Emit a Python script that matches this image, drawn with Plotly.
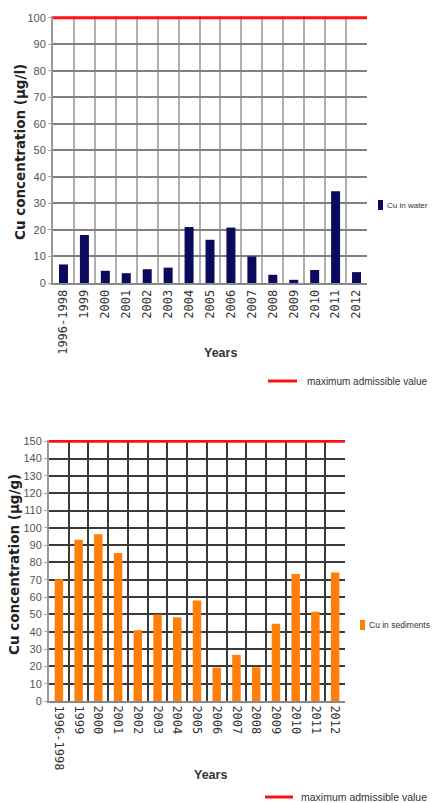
import plotly.graph_objects as go

categories = ["1996-1998", "1999", "2000", "2001", "2002", "2003", "2004", "2005",
              "2006", "2007", "2008", "2009", "2010", "2011", "2012"]
cu_water = [7.0, 18.1, 4.6, 3.7, 5.2, 5.8, 21.1, 16.3, 20.9, 10.0, 3.1, 1.2, 4.9, 34.6, 4.1]
cu_sediments = [70.3, 93.2, 96.3, 85.5, 40.9, 50.0, 48.4, 58.0, 19.3, 26.7, 19.5, 44.6, 73.4, 51.6, 74.2]
water_limit = 100
sediment_limit = 150
water_ticks = list(range(0, 101, 10))
sediment_ticks = list(range(0, 151, 10))

W, H = 432, 803

def px_x(p):
    return p / W

def px_y(p):
    return 1 - p / H

SANS = "Liberation Sans, Arial"
MONO = "DejaVu Sans Mono, monospace"
TITLE = "DejaVu Sans, Verdana"
WATER_COLOR = "#0a0a5e"
SED_COLOR = "#ff7f0a"
LIMIT_COLOR = "#ff1010"

fig = go.Figure()

fig.add_trace(go.Bar(
    x=categories, y=cu_water, name="Cu in water",
    marker=dict(color=WATER_COLOR, line=dict(width=0)),
    xaxis="x", yaxis="y", showlegend=False,
))
fig.add_trace(go.Bar(
    x=categories, y=cu_sediments, name="Cu in sediments",
    marker=dict(color=SED_COLOR, line=dict(width=0)),
    xaxis="x2", yaxis="y2", showlegend=False,
))

# maximum admissible value lines
fig.add_shape(type="line", xref="x domain", x0=0, x1=1, yref="y",
              y0=water_limit, y1=water_limit,
              line=dict(color=LIMIT_COLOR, width=3))
fig.add_shape(type="line", xref="x2 domain", x0=0, x1=1, yref="y2",
              y0=sediment_limit, y1=sediment_limit,
              line=dict(color=LIMIT_COLOR, width=3))

# legend swatches (layout decorations)
def swatch_rect(x0, x1, y0, y1, color):
    fig.add_shape(type="rect", xref="paper", yref="paper",
                  x0=px_x(x0), x1=px_x(x1), y0=px_y(y1), y1=px_y(y0),
                  fillcolor=color, line=dict(width=0))

def swatch_line(x0, x1, y, color):
    fig.add_shape(type="line", xref="paper", yref="paper",
                  x0=px_x(x0), x1=px_x(x1), y0=px_y(y), y1=px_y(y),
                  line=dict(color=color, width=3))

swatch_rect(378, 383, 200, 210, WATER_COLOR)
swatch_line(268, 297, 381, LIMIT_COLOR)
swatch_rect(360, 365, 620, 630, SED_COLOR)
swatch_line(265, 293, 797, LIMIT_COLOR)

xcommon = dict(
    type="category", tickson="boundaries", showgrid=True, gridwidth=2,
    ticks="", showline=True, linewidth=2, linecolor="#888888",
    tickfont=dict(family=MONO, size=12, color="#333333"),
)
ycommon = dict(
    showgrid=True, gridwidth=2, zeroline=False,
    ticks="outside", ticklen=3, tickcolor="#aaaaaa",
    showline=True, linewidth=2, linecolor="#999999",
    tickfont=dict(family=SANS, size=11, color="#555555"),
)

def label(text, x, y, size, family=SANS, color="#333333", angle=0, xanchor="center"):
    return dict(text=text, x=px_x(x), y=px_y(y), xref="paper", yref="paper",
                showarrow=False, textangle=angle, xanchor=xanchor, yanchor="middle",
                font=dict(family=family, size=size, color=color))

fig.update_layout(
    width=W, height=H,
    margin=dict(l=0, r=0, t=0, b=0, autoexpand=False),
    paper_bgcolor="white", plot_bgcolor="white",
    bargap=0.57,
    showlegend=False,
    xaxis=dict(xcommon, domain=[px_x(53), px_x(367)], anchor="y",
               gridcolor="#b0b0b0", tickangle=-90),
    yaxis=dict(ycommon, domain=[px_y(283), px_y(16)], anchor="x",
               range=[0, water_limit * 1.007], tickvals=water_ticks,
               gridcolor="#808080"),
    xaxis2=dict(xcommon, domain=[px_x(49), px_x(345)], anchor="y2",
                gridcolor="#3a3a3a", tickangle=90),
    yaxis2=dict(ycommon, domain=[px_y(701), px_y(440)], anchor="x2",
                range=[0, sediment_limit * 1.005], tickvals=sediment_ticks,
                gridcolor="#3a3a3a"),
    annotations=[
        label("<b>Years</b>", 220, 353, 12.5),
        label("<b>Years</b>", 210, 775, 12.5),
        label("<b>Cu concentration (µg/l)</b>", 20, 152, 13.5, TITLE, "#222222", -90),
        label("<b>Cu concentration (µg/g)</b>", 14, 565, 13.5, TITLE, "#222222", -90),
        label("Cu in water", 385, 205, 8, xanchor="left"),
        label("maximum admissible value", 305, 381, 10, xanchor="left"),
        label("Cu in sediments", 367, 625, 8.5, xanchor="left"),
        label("maximum admissible value", 299, 797, 10.5, xanchor="left"),
    ],
)

fig.write_html("out.html", config={"displayModeBar": False},
               post_script="document.body.style.margin='0px';")
